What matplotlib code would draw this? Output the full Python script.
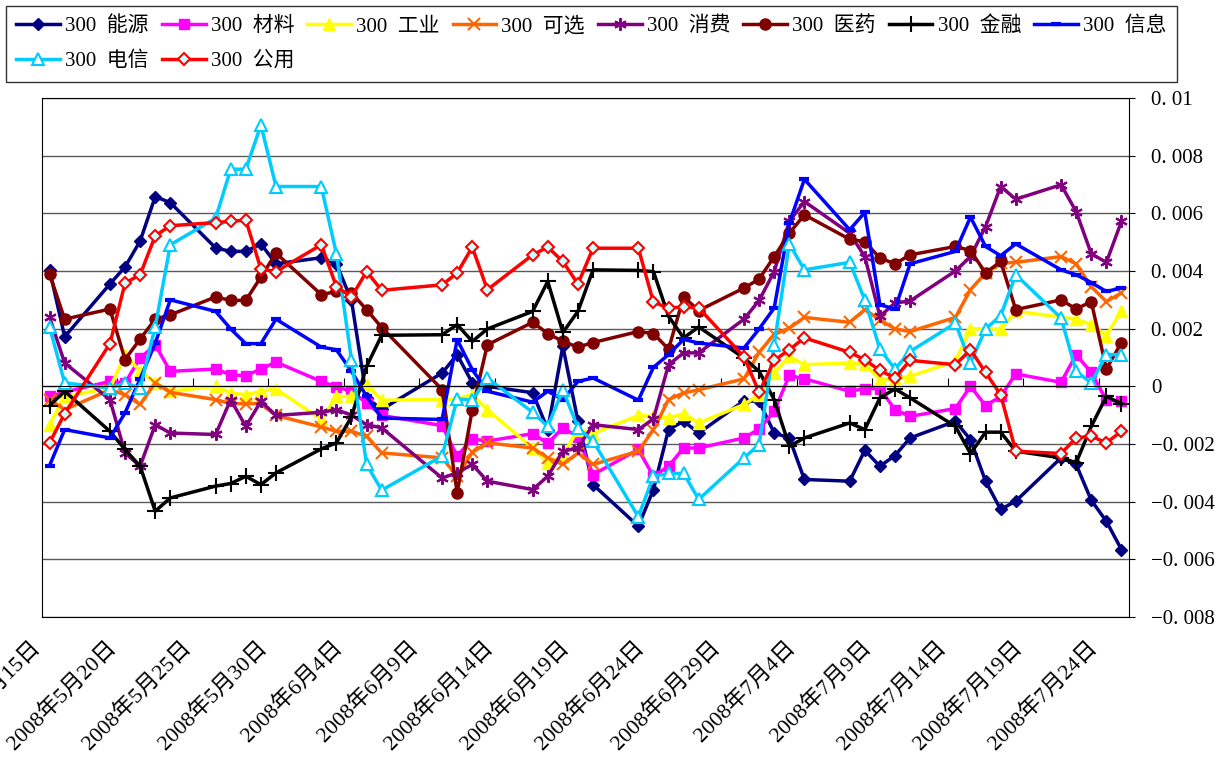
import matplotlib
matplotlib.use('Agg')
import matplotlib.pyplot as plt
import matplotlib.dates as mdates
import numpy as np
import pandas as pd

plt.rcParams['font.family'] = ['Liberation Serif', 'Noto Sans CJK SC']

# 交易日 (2008-05-15 ~ 2008-07-25)
dates = ['2008-05-15', '2008-05-16', '2008-05-19', '2008-05-20', '2008-05-21', '2008-05-22', '2008-05-23',
         '2008-05-26', '2008-05-27', '2008-05-28', '2008-05-29', '2008-05-30',
         '2008-06-02', '2008-06-03', '2008-06-04', '2008-06-05', '2008-06-06',
         '2008-06-10', '2008-06-11', '2008-06-12', '2008-06-13',
         '2008-06-16', '2008-06-17', '2008-06-18', '2008-06-19', '2008-06-20',
         '2008-06-23', '2008-06-24', '2008-06-25', '2008-06-26', '2008-06-27',
         '2008-06-30', '2008-07-01', '2008-07-02', '2008-07-03', '2008-07-04',
         '2008-07-07', '2008-07-08', '2008-07-09', '2008-07-10', '2008-07-11',
         '2008-07-14', '2008-07-15', '2008-07-16', '2008-07-17', '2008-07-18',
         '2008-07-21', '2008-07-22', '2008-07-23', '2008-07-24', '2008-07-25']

# 数值单位: 0.001
energy = [4.04, 1.72, 3.55, 4.14, 5.04, 6.58, 6.37, 4.80, 4.68, 4.68, 4.94, 4.25, 4.46, 4.25, 2.98, -0.40, -0.80,
          0.46, 1.10, 0.12, 0.00, -0.22, -1.50, 1.39, -1.21, -3.41, -4.85, -3.58, -1.50, -1.21, -1.62,
          -0.50, -0.52, -1.62, -1.79, -3.23, -3.29, -2.22, -2.77, -2.40, -1.79, -1.21, -1.85, -3.29, -4.27, -3.98,
          -2.48, -2.71, -3.95, -4.68, -5.66]
material = [-0.35, -0.20, 0.17, 0.12, 0.98, 1.44, 0.52, 0.60, 0.40, 0.37, 0.60, 0.84, 0.17, -0.02, -0.17, -0.58, -1.01,
            -1.36, -2.42, -1.82, -1.90, -1.64, -1.98, -1.44, -1.75, -3.06, -2.19, -3.12, -2.77, -2.14, -2.14,
            -1.79, -1.48, -0.87, 0.38, 0.26, -0.17, -0.08, -0.08, -0.81, -1.04, -0.77, 0.00, -0.67, -0.35, 0.43,
            0.14, 1.10, 0.48, -0.48, -0.52]
industry = [-1.33, -0.35, -0.06, 1.10, 0.52, 0.12, -0.17, 0.00, -0.23, -0.29, -0.17, -0.09, -1.15, -0.35, -0.35, 0.06, -0.48,
            -0.46, -0.43, -0.29, -0.81, -2.14, -2.65, -2.40, -1.50, -1.64, -1.01, -1.04, -1.10, -0.95, -1.27,
            -0.63, -0.29, 0.46, 1.04, 0.75, 0.81, 0.78, 0.23, 0.26, 0.35, 0.87, 2.00, 1.99, 1.99, 2.60,
            2.40, 2.33, 2.14, 1.76, 2.63]
optional = [-0.46, -0.81, -0.12, -0.29, -0.63, 0.12, -0.21, -0.46, -0.60, -0.60, -0.60, -1.01, -1.41, -1.56, -1.56, -1.73, -2.31,
            -2.48, -3.12, -2.29, -1.96, -2.14, -2.48, -2.71, -2.31, -2.71, -2.25, -1.50, -0.46, -0.23, -0.12,
            0.26, 1.18, 1.80, 2.02, 2.39, 2.22, 2.66, 2.31, 1.99, 1.90, 2.39, 3.35, 3.93, 4.27, 4.30,
            4.50, 4.25, 3.46, 2.94, 3.24]
consumer = [2.40, 0.81, -0.46, -2.31, -2.77, -1.33, -1.62, -1.67, -0.46, -1.39, -0.52, -1.01, -0.90, -0.81, -1.00, -1.33, -1.44,
            -3.18, -3.00, -2.71, -3.29, -3.58, -3.12, -2.25, -2.14, -1.33, -1.50, -1.13, 0.75, 1.16, 1.16,
            2.33, 2.98, 3.98, 5.72, 6.41, 5.31, 4.50, 2.43, 2.89, 2.96, 4.00, 4.50, 5.54, 6.93, 6.49,
            6.99, 6.06, 4.60, 4.30, 5.72]
medicine = [3.90, 2.33, 2.68, 0.93, 1.64, 2.33, 2.48, 3.10, 2.98, 2.98, 3.79, 4.62, 3.18, 3.29, 3.24, 2.66, 2.04,
            -0.11, -3.69, -0.81, 1.44, 2.22, 1.83, 1.56, 1.36, 1.52, 1.90, 1.83, 1.29, 3.10, 2.63,
            3.41, 3.72, 4.50, 5.31, 5.95, 5.10, 5.02, 4.45, 4.25, 4.56, 4.85, 4.71, 3.93, 4.33, 2.66,
            3.00, 2.68, 2.94, 0.60, 1.52]
finance = [-0.67, -0.17, -1.56, -2.19, -2.77, -4.33, -3.87, -3.46, -3.37, -3.12, -3.41, -3.00, -2.17, -1.96, -1.06, 0.69, 1.77,
           1.79, 2.14, 1.56, 1.99, 2.60, 3.64, 1.87, 2.60, 4.04, 4.02, 3.98, 2.43, 1.68, 2.06,
           0.98, 0.52, -0.46, -2.08, -1.79, -1.27, -1.50, -0.40, -0.09, -0.40, -1.39, -2.33, -1.59, -1.59, -2.25,
           -2.48, -2.65, -1.39, -0.35, -0.60]
info = [-2.75, -1.50, -1.79, -0.92, 0.26, 1.50, 3.00, 2.60, 1.99, 1.48, 1.48, 2.33, 1.36, 1.27, 0.52, -0.35, -1.10,
        -1.15, 1.62, 0.58, -0.17, -0.55, -0.17, -0.46, 0.17, 0.29, -0.48, 0.66, 1.10, 1.63, 1.50,
        1.33, 1.99, 2.72, 5.66, 7.18, 5.43, 6.03, 2.83, 2.68, 4.25, 4.68, 5.87, 4.85, 4.53, 4.94,
        4.04, 3.87, 3.60, 3.29, 3.41]
telecom = [2.06, 0.12, -0.06, 0.12, -0.06, 2.06, 4.91, 5.83, 7.53, 7.53, 9.06, 6.93, 6.93, 4.60, 0.92, -2.71, -3.60,
           -2.42, -0.44, -0.48, 0.29, -0.90, -1.39, -0.12, -1.44, -1.90, -4.52, -3.12, -3.02, -3.02, -3.92,
           -2.48, -2.02, 1.45, 4.94, 4.04, 4.30, 3.00, 1.29, 0.60, 1.21, 2.19, 0.81, 1.99, 2.45, 3.87,
           2.37, 0.52, 0.12, 1.10, 1.10]
utility = [-1.96, -0.95, 1.48, 3.58, 3.87, 5.22, 5.57, 5.68, 5.72, 5.77, 4.07, 3.98, 4.91, 3.46, 3.10, 3.98, 3.33,
           3.52, 3.93, 4.83, 3.35, 4.56, 4.83, 4.33, 3.55, 4.79, 4.79, 2.92, 2.72, 2.75, 2.72,
           1.02, -0.21, 0.90, 1.27, 1.68, 1.18, 0.92, 0.55, 0.29, 0.90, 0.75, 1.27, 0.48, -0.29, -2.25,
           -2.33, -1.79, -1.73, -1.96, -1.56]

names = ['300 能源', '300 材料', '300 工业', '300 可选', '300 消费',
         '300 医药', '300 金融', '300 信息', '300 电信', '300 公用']
series = [energy, material, industry, optional, consumer, medicine, finance, info, telecom, utility]

styles = [
    dict(color='#000080', marker='D', ms=6.5),
    dict(color='#FF00FF', marker='s', ms=7.5),
    dict(color='#FFFF00', marker='^', ms=8),
    dict(color='#FF6600', marker='x', ms=8, mew=1.5),
    dict(color='#800080', marker=(6, 2, 0), ms=9, mew=1.5),
    dict(color='#800000', marker='o', ms=8),
    dict(color='#000000', marker='+', ms=12, mew=1.5),
    dict(color='#0000FF', marker='_', ms=7, mew=3),
    dict(color='#00CCFF', marker='^', ms=8, mfc='white', mew=1.5),
    dict(color='#FF0000', marker='D', ms=6.5, mfc='#CCFFFF', mew=1.5),
]

x = mdates.date2num(pd.to_datetime(dates))

fig = plt.figure(figsize=(12.26, 7.58), dpi=100)
ax = fig.add_axes([42 / 1226, 141 / 758, 1087 / 1226, 519 / 758])

handles = []
for name, vals, st in zip(names, series, styles):
    h, = ax.plot(x, np.array(vals) * 0.001, lw=2.5, label=name, **st)
    handles.append(h)

x0 = mdates.date2num(pd.Timestamp('2008-05-15')) - 0.5
x1 = mdates.date2num(pd.Timestamp('2008-07-25')) + 0.5
ax.set_xlim(x0, x1)
ax.set_ylim(-0.008, 0.01)

# y 轴在右侧
yt = np.arange(-0.008, 0.0101, 0.002)
ylab = []
for v in yt:
    s = '0' if abs(v) < 1e-12 else f'{v:g}'
    ylab.append(s.replace('.', '. ').replace('-', '\u2212'))
ax.yaxis.tick_right()
ax.set_yticks(yt, ylab)
ax.tick_params(axis='y', direction='out', length=4, pad=12, labelsize=15)
ax.grid(axis='y', color='#5a5a5a', lw=1.0)

# x 轴刻度线画在 0 线上
tick_days = pd.date_range('2008-05-15', '2008-07-24', freq='5D')
tick_pos = mdates.date2num(tick_days) - 0.5
tick_lab = [f'{d.year}年{d.month}月{d.day}日' for d in tick_days]
ax.spines['bottom'].set_position(('data', 0))
ax.set_xticks(tick_pos)
ax.tick_params(axis='x', direction='in', length=6, labelbottom=False)

# 底边框
sec = ax.secondary_xaxis('bottom')
sec.set_xticks([])
for sp in ax.spines.values():
    sp.set_color('black')

# 日期标签 (45 度, 画在绘图区下方)
for p, lab in zip(tick_pos, tick_lab):
    ax.annotate(lab, xy=(p, 0), xycoords=('data', 'axes fraction'),
                xytext=(-12, -20), textcoords='offset pixels',
                rotation=45, ha='right', va='top', rotation_mode='anchor',
                fontsize=16, annotation_clip=False)

order = [0, 8, 1, 9, 2, 3, 4, 5, 6, 7]
leg = fig.legend([handles[i] for i in order], [names[i].replace(' ', '\u2002') for i in order],
                 loc='upper left', bbox_to_anchor=(6 / 1226, 1 - 6 / 758), ncol=8,
                 frameon=True, fancybox=False, edgecolor='black', fontsize=15,
                 handlelength=2.1, handletextpad=0.25, columnspacing=0.62,
                 borderpad=0.5, labelspacing=0.74, borderaxespad=0)
leg.get_frame().set_linewidth(1.0)

fig.savefig('out.png', dpi=100)
